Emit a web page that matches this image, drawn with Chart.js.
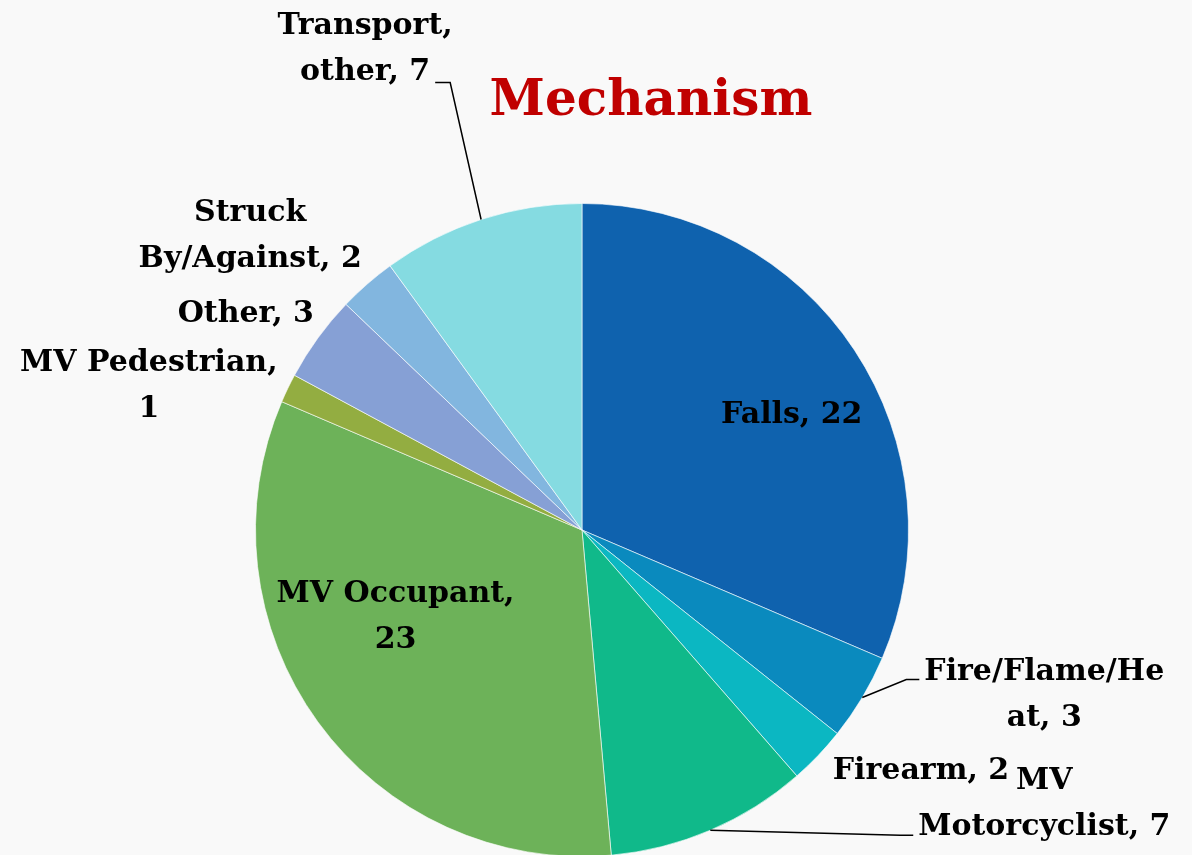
<!DOCTYPE html>
<html>
<head>
<meta charset="utf-8">
<title>Mechanism</title>
<script src="https://cdn.jsdelivr.net/npm/chart.js@4.4.1/dist/chart.umd.min.js"></script>
<style>
  html, body { margin: 0; padding: 0; background: #f9f9f9; overflow: hidden; }
  #wrap { width: 1192px; height: 855px; overflow: hidden; }
</style>
</head>
<body>
<div id="wrap"><canvas id="myChart" width="1192" height="900"></canvas></div>
<script>
let labels = [
    'Falls',
    'Fire/Flame/Heat',
    'Firearm',
    'MV Motorcyclist',
    'MV Occupant',
    'MV Pedestrian',
    'Other',
    'Struck By/Against',
    'Transport, other',
];

let counts = [22, 3, 2, 7, 23, 1, 3, 2, 7];

let sliceColors = [
    '#0f62ae',
    '#0a8abe',
    '#0bb7c2',
    '#10b98a',
    '#6db259',
    '#93ad41',
    '#86a0d5',
    '#82b6df',
    '#85dbe1',
];

/* where each label sits: point on the slice's middle ray (dist x radius) plus a nudge */
let labelLayout = [
    { dist: 0.7, dx: 19, dy: 11 },
    { dist: 1, dx: 182, dy: -2, breakAt: 13, leader: { line: 0, side: 'left', dy: 7 } },
    { dist: 1, dx: 103, dy: 16 },
    { dist: 1, dx: 334, dy: -26, breakAt: 3, leader: { line: 1, side: 'left', dy: 8 } },
    { dist: 0.63, dx: -20, dy: -34, breakAt: 12 },
    { dist: 1, dx: -139, dy: -2, breakAt: 14 },
    { dist: 1, dx: -72, dy: -24 },
    { dist: 1, dx: -117, dy: -48, breakAt: 6 },
    { dist: 1, dx: -116, dy: -170, breakAt: 10, leader: { line: 1, side: 'right', dy: 10 } },
];

const lineH = 46;

const sliceLabels = {
    id: 'sliceLabels',
    afterDatasetsDraw(chart) {
        const ctx = chart.ctx;
        const meta = chart.getDatasetMeta(0);
        ctx.save();
        ctx.font = 'bold 30px "DejaVu Serif"';
        ctx.textAlign = 'center';
        ctx.textBaseline = 'middle';
        ctx.fillStyle = '#000';
        ctx.strokeStyle = '#000';
        ctx.lineWidth = 1.5;
        meta.data.forEach((arc, i) => {
            const p = arc.getProps(['x', 'y', 'startAngle', 'endAngle', 'outerRadius'], true);
            const mid = (p.startAngle + p.endAngle) / 2;
            const lay = labelLayout[i];
            const r = p.outerRadius * lay.dist;
            const bx = p.x + Math.cos(mid) * r + lay.dx;
            const by = p.y + Math.sin(mid) * r + lay.dy;
            const text = labels[i] + ', ' + counts[i];
            const lines = lay.breakAt
                ? [text.slice(0, lay.breakAt).trim(), text.slice(lay.breakAt).trim()]
                : [text];
            const top = by - (lines.length - 1) * lineH / 2;
            lines.forEach((t, k) => ctx.fillText(t, bx, top + k * lineH));

            if (lay.leader) {
                const k = lay.leader.line;
                const w = ctx.measureText(lines[k]).width;
                const ly = top + k * lineH + lay.leader.dy;
                let ex, elbow;
                if (lay.leader.side === 'left') {
                    ex = bx - w / 2 - 5;
                    elbow = ex - 13;
                } else {
                    ex = bx + w / 2 + 5;
                    elbow = ex + 15;
                }
                ctx.beginPath();
                ctx.moveTo(p.x + Math.cos(mid) * p.outerRadius, p.y + Math.sin(mid) * p.outerRadius);
                ctx.lineTo(elbow, ly);
                ctx.lineTo(ex, ly);
                ctx.stroke();
            }
        });

        // slide title
        ctx.font = 'bold 50px "DejaVu Serif"';
        ctx.fillStyle = '#c00000';
        ctx.fillText('Mechanism', 651, 102);
        ctx.restore();
    }
};

let data = {
    labels: labels,
    datasets: [{
        data: counts,
        backgroundColor: sliceColors,
        borderColor: 'rgba(255, 255, 255, 0.6)',
        borderWidth: 1,
    }]
};

let config = {
    type: 'pie',
    data: data,
    options: {
        responsive: false,
        animation: false,
        layout: { padding: { top: 203, bottom: 43, left: 255, right: 283 } },
        plugins: {
            legend: { display: false },
            tooltip: { enabled: false },
        }
    },
    plugins: [sliceLabels]
};

var myChart = new Chart(document.getElementById('myChart').getContext('2d'), config);
</script>
</body>
</html>
